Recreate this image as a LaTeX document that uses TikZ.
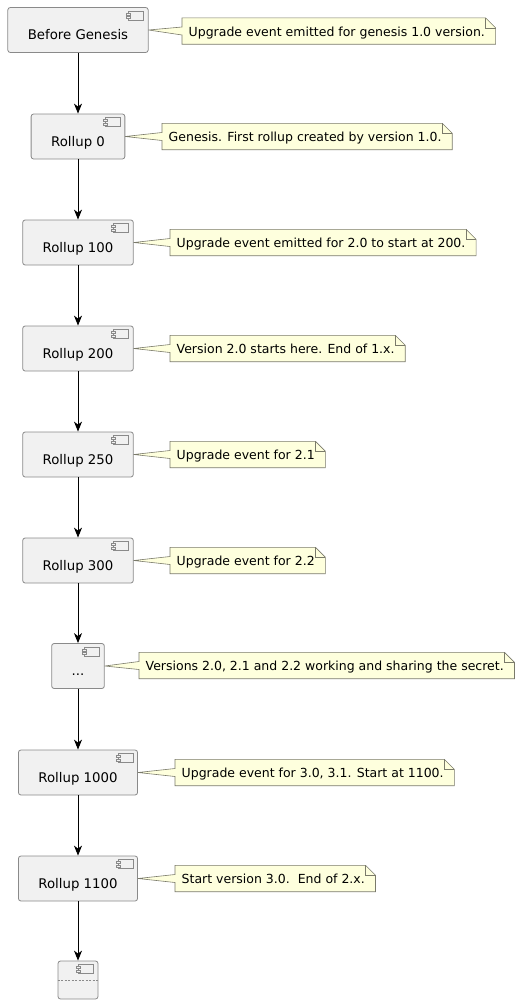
\documentclass[tikz,border=0pt]{standalone}
\usepackage{fontspec}
\setmainfont{DejaVu Sans}
\usetikzlibrary{arrows.meta,backgrounds}

\definecolor{compfill}{HTML}{F1F1F1}
\definecolor{compline}{HTML}{8A8A8A}
\definecolor{notefill}{HTML}{FEFFDD}
\definecolor{noteline}{HTML}{7A7A6A}

\tikzset{
  comp/.style={draw=compline, fill=compfill, rounded corners=2.5pt, line width=0.8pt,
    minimum height=45pt, inner xsep=20pt, text height=21pt, text depth=2pt,
    font=\fontsize{13.3}{16}\selectfont},
  emptycomp/.style={draw=compline, fill=compfill, rounded corners=2.5pt, line width=0.8pt,
    minimum width=40pt, minimum height=38pt, inner sep=0pt},
  note/.style={anchor=west, inner xsep=6.5pt, inner ysep=7pt, text height=11pt, text depth=1pt,
    font=\fontsize{12.5}{15}\selectfont, execute at end node={\hspace{4pt}}},
  icon/.style={draw=compline, fill=compfill, line width=0.6pt},
  arr/.style={-{Stealth[length=10pt,width=8pt,inset=3pt]}, line width=0.9pt}
}

\begin{document}
\begin{tikzpicture}[x=1pt,y=-1pt]
    \useasboundingbox (0,0) rectangle (526,1004);
    % components
    \node[comp] at (78,30) (bg) {Before Genesis};
    \node[comp] at (78,136.5) (r0) {Rollup 0};
    \node[comp] at (78,242.5) (r100) {Rollup 100};
    \node[comp] at (78,348.5) (r200) {Rollup 200};
    \node[comp] at (78,454.5) (r250) {Rollup 250};
    \node[comp] at (78,560.5) (r300) {Rollup 300};
    \node[comp] at (78,666) (dots) {...};
    \node[comp] at (78,772.5) (r1000) {Rollup 1000};
    \node[comp] at (78,878.5) (r1100) {Rollup 1100};
    \node[emptycomp] at (78,980) (e) {};
    \draw[compline, line width=0.6pt, dash pattern=on 2pt off 1.5pt]
        ([yshift=-20pt]e.north west) -- ([yshift=-20pt]e.north east);
    % component icons
    \foreach \c in {bg,r0,r100,r200,r250,r300,dots,r1000,r1100,e} {
        \draw[icon] ([xshift=-20pt,yshift=-4pt]\c.north east) rectangle ++(15,9);
        \draw[icon] ([xshift=-22pt,yshift=-6pt]\c.north east) rectangle ++(4,2);
        \draw[icon] ([xshift=-22pt,yshift=-9.5pt]\c.north east) rectangle ++(4,2);
    }
    % notes
    \node[note] at (182,31) (n1) {Upgrade event emitted for genesis 1.0 version.};
    \node[note] at (162,136.5) (n2) {Genesis. First rollup created by version 1.0.};
    \node[note] at (170,242.5) (n3) {Upgrade event emitted for 2.0 to start at 200.};
    \node[note] at (170,348.5) (n4) {Version 2.0 starts here. End of 1.x.};
    \node[note] at (170,454.5) (n5) {Upgrade event for 2.1};
    \node[note] at (170,560.5) (n6) {Upgrade event for 2.2};
    \node[note] at (139,665.5) (n7) {Versions 2.0, 2.1 and 2.2 working and sharing the secret.};
    \node[note] at (175,772.5) (n8) {Upgrade event for 3.0, 3.1. Start at 1100.};
    \node[note] at (175,878.5) (n9) {Start version 3.0.\ \ End of 2.x.};
    \begin{pgfonlayer}{background}
    \foreach \n/\c in {n1/bg,n2/r0,n3/r100,n4/r200,n5/r250,n6/r300,n7/dots,n8/r1000,n9/r1100} {
        \filldraw[fill=notefill, draw=noteline, line width=0.6pt]
            (\n.north west) -- ([xshift=-10pt]\n.north east) -- ([yshift=-10pt]\n.north east)
            -- (\n.south east) -- (\n.south west) -- ([yshift=-4pt]\n.west)
            -- (\c.east) -- ([yshift=4pt]\n.west) -- cycle;
        \draw[draw=noteline, line width=0.6pt]
            ([xshift=-10pt]\n.north east) -- ++(0,10) -- ++(10,0);
    }
    \end{pgfonlayer}
    % connectors
    \draw[arr] (bg) -- (r0);
    \draw[arr] (r0) -- (r100);
    \draw[arr] (r100) -- (r200);
    \draw[arr] (r200) -- (r250);
    \draw[arr] (r250) -- (r300);
    \draw[arr] (r300) -- (dots);
    \draw[arr] (dots) -- (r1000);
    \draw[arr] (r1000) -- (r1100);
    \draw[arr] (r1100) -- (e);
\end{tikzpicture}
\end{document}
